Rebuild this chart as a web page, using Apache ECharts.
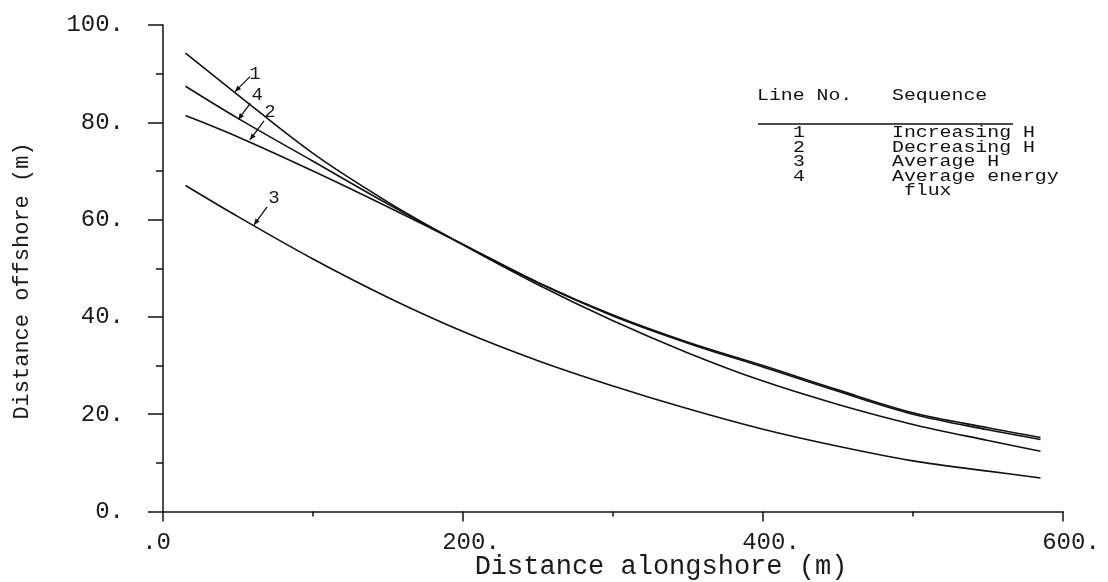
<!DOCTYPE html>
<html><head><meta charset="utf-8">
<script src="https://cdn.jsdelivr.net/npm/echarts@6/dist/echarts.min.js"></script>
<style>html,body{margin:0;padding:0;background:#fff}#c{width:1108px;height:582px}</style>
</head><body><div id="c"></div>
<script>
// ---- data ----
const xAlong = [15, 50, 100, 150, 200, 250, 300, 350, 400, 450, 500, 550, 585];
const line1 = [94.2, 85.6, 73.6, 63.6, 54.8, 46.6, 39.2, 32.6, 26.8, 22.0, 17.9, 14.6, 12.4];
const line2 = [81.4, 77.0, 70.0, 62.6, 54.9, 47.1, 40.4, 34.8, 30.0, 25.0, 20.3, 17.2, 15.2];
const line3 = [67.0, 60.6, 51.9, 44.0, 37.0, 31.0, 25.8, 21.1, 16.9, 13.4, 10.4, 8.3, 6.9];
const line4 = [87.4, 80.8, 72.0, 63.2, 54.9, 47.0, 40.2, 34.6, 29.7, 24.7, 20.0, 16.8, 14.8];
const lineNames = ['1', '2', '3', '4'];
const tableHeader = ['Line No.', 'Sequence'];
const tableNos = ['1', '2', '3', '4', ''];
const tableSeq = ['Increasing H', 'Decreasing H', 'Average H', 'Average energy', ' flux'];
const xTitle = 'Distance alongshore (m)';
const yTitle = 'Distance offshore (m)';
// label anchors on the curves (data coords)
const annotLabels = ['1', '4', '2', '3'];
const annotX = [48, 50.2, 58, 60.7];
const annotY = [86.3, 80.6, 76.4, 58.9];

const chart = echarts.init(document.getElementById('c'), null, {renderer: 'canvas'});
const ink = '#111';
const mono = 'Liberation Mono';
const mk = (vals) => xAlong.map((x, i) => [x, vals[i]]);
const seriesVals = [line1, line2, line3, line4];

chart.setOption({
  animation: false,
  backgroundColor: '#fff',
  grid: {left: 163, right: 45, top: 25, bottom: 70.5, containLabel: false},
  xAxis: {
    type: 'value', min: 0, max: 600, interval: 200,
    axisLine: {show: true, onZero: false, lineStyle: {color: ink, width: 1.5}},
    axisTick: {show: true, length: 10, lineStyle: {color: ink, width: 1.5}},
    minorTick: {show: true, splitNumber: 2, length: 5, lineStyle: {color: ink, width: 1.5}},
    splitLine: {show: false}, minorSplitLine: {show: false},
    axisLabel: {
      formatter: v => (v === 0 ? '.0  ' : v + '.'),
      fontFamily: mono, fontSize: 24, color: '#1a1a1a', margin: 19,
      align: 'center', padding: [0, 0, 0, 16],
      showMinLabel: true, showMaxLabel: true, hideOverlap: false
    }
  },
  yAxis: {
    type: 'value', min: 0, max: 100, interval: 20,
    axisLine: {show: true, onZero: false, lineStyle: {color: ink, width: 1.5}},
    axisTick: {show: true, length: 15, lineStyle: {color: ink, width: 1.5}},
    minorTick: {show: true, splitNumber: 2, length: 7, lineStyle: {color: ink, width: 1.5}},
    splitLine: {show: false}, minorSplitLine: {show: false},
    axisLabel: {
      formatter: v => v + '.',
      fontFamily: mono, fontSize: 24, color: '#1a1a1a', margin: 39,
      showMinLabel: true, showMaxLabel: true, hideOverlap: false
    }
  },
  series: seriesVals.map((vals, i) => ({
    name: lineNames[i], type: 'line', data: mk(vals),
    smooth: 0.35, showSymbol: false, symbol: 'none',
    lineStyle: {color: ink, width: 1.6}
  }))
});

// ---- annotations & table (graphic) ----
const g = [];
const leaderTail = [[15, -15], [12, -16], [14, -19], [13, -18]];
const textOff = [[20, -18], [19, -24], [20, -28], [20, -27]];
annotLabels.forEach((lab, i) => {
  const p = chart.convertToPixel({gridIndex: 0}, [annotX[i], annotY[i]]);
  const tx = p[0] + leaderTail[i][0], ty = p[1] + leaderTail[i][1];
  g.push({type: 'line', shape: {x1: tx, y1: ty, x2: p[0], y2: p[1]}, style: {stroke: ink, lineWidth: 1.3}});
  const dx = p[0] - tx, dy = p[1] - ty, L = Math.hypot(dx, dy);
  const ux = dx / L, uy = dy / L, ah = 6, aw = 2.6;
  const bx = p[0] - ux * ah, by = p[1] - uy * ah;
  g.push({type: 'polygon', shape: {points: [[p[0], p[1]], [bx - uy * aw, by + ux * aw], [bx + uy * aw, by - ux * aw]]}, style: {fill: ink}});
  g.push({type: 'text', x: p[0] + textOff[i][0], y: p[1] + textOff[i][1],
    style: {text: lab, font: '19px "Liberation Mono"', fill: '#1a1a1a', align: 'center', verticalAlign: 'middle'}});
});

// axis titles
g.push({type: 'text', x: 661, y: 567,
  style: {text: xTitle, font: '27px "Liberation Mono"', fill: '#1a1a1a', align: 'center', verticalAlign: 'middle'}});
g.push({type: 'text', x: 22, y: 281, rotation: Math.PI / 2,
  style: {text: yTitle, font: '22px "Liberation Mono"', fill: '#1a1a1a', align: 'center', verticalAlign: 'middle'}});

// legend table
const tf = '16px "Liberation Mono"', sx = 1.24;
g.push({type: 'text', x: 757, y: 96, scaleX: sx, style: {text: tableHeader[0], font: tf, fill: '#111', align: 'left', verticalAlign: 'middle'}});
g.push({type: 'text', x: 892, y: 96, scaleX: sx, style: {text: tableHeader[1], font: tf, fill: '#111', align: 'left', verticalAlign: 'middle'}});
g.push({type: 'line', shape: {x1: 758, y1: 124, x2: 1013, y2: 124}, style: {stroke: ink, lineWidth: 1.5}});
tableSeq.forEach((s, i) => {
  const y = 133 + i * 14.5;
  if (tableNos[i]) g.push({type: 'text', x: 799, y: y, scaleX: sx, style: {text: tableNos[i], font: tf, fill: '#111', align: 'center', verticalAlign: 'middle'}});
  g.push({type: 'text', x: 892, y: y, scaleX: sx, style: {text: s, font: tf, fill: '#111', align: 'left', verticalAlign: 'middle'}});
});
chart.setOption({graphic: g});
</script></body></html>
